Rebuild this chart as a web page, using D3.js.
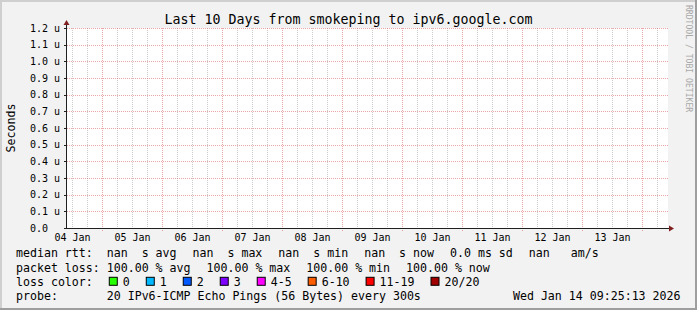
<!DOCTYPE html>
<html><head><meta charset="utf-8">
<script src="https://cdn.jsdelivr.net/npm/d3@7"></script>
<style>
html,body{margin:0;padding:0;background:#f2f2f2;}
svg{display:block;font-family:"DejaVu Sans Mono",monospace;}
text{white-space:pre;}
</style></head><body>
<svg id="c" width="697" height="310"></svg>
<script>
// ---- data ----
const title = "Last 10 Days from smokeping to ipv6.google.com";
const yAxisTitle = "Seconds";
const watermark = "RRDTOOL / TOBI OETIKER";
const timeDomain = ["2026-01-04T10:00:00Z", "2026-01-14T10:00:00Z"];
const yTicks = [0.0, 0.1, 0.2, 0.3, 0.4, 0.5, 0.6, 0.7, 0.8, 0.9, 1.0, 1.1, 1.2];
const yTickLabels = ["0.0  ", "0.1 u", "0.2 u", "0.3 u", "0.4 u", "0.5 u", "0.6 u", "0.7 u", "0.8 u", "0.9 u", "1.0 u", "1.1 u", "1.2 u"];
const dayLabels = ["04 Jan", "05 Jan", "06 Jan", "07 Jan", "08 Jan", "09 Jan", "10 Jan", "11 Jan", "12 Jan", "13 Jan"];
const dayLabelTimes = ["2026-01-04T12:00:00Z", "2026-01-05T12:00:00Z", "2026-01-06T12:00:00Z", "2026-01-07T12:00:00Z", "2026-01-08T12:00:00Z", "2026-01-09T12:00:00Z", "2026-01-10T12:00:00Z", "2026-01-11T12:00:00Z", "2026-01-12T12:00:00Z", "2026-01-13T12:00:00Z"];
const medianStatNames = ["avg", "max", "min", "now"];
const medianStatValues = ["nan", "nan", "nan", "nan"];
const rttSd = "0.0";
const amPerS = "nan";
const lossStatNames = ["avg", "max", "min", "now"];
const lossStatValues = ["100.00", "100.00", "100.00", "100.00"];
const lossColorLabels = ["0", "1", "2", "3", "4-5", "6-10", "11-19", "20/20"];
const lossColors = ["#26ff00", "#00b8ff", "#0059ff", "#7e00ff", "#ff00ff", "#ff5e00", "#ff0000", "#a10000"];
const probeText = "20 IPv6-ICMP Echo Pings (56 Bytes) every 300s";
const timestamp = "Wed Jan 14 09:25:13 2026";

// ---- layout ----
const W = 697, H = 310;
const L = 67, R = 667, T = 28, B = 228;
const svg = d3.select("#c");
const bg = "#f2f2f2";

svg.append("rect").attr("width", W).attr("height", H).attr("fill", bg);
// 3D frame
svg.append("path").attr("d", `M0,0H${W}V2H2V${H}H0Z`).attr("fill", "#cfcfcf");
svg.append("path").attr("d", `M${W},${H}H0V${H-2}H${W-2}V0H${W}Z`).attr("fill", "#9e9e9e");

// canvas
svg.append("rect").attr("x", L).attr("y", T).attr("width", R - L + 1).attr("height", B - T).attr("fill", "#fff");

const x = d3.scaleUtc().domain(timeDomain.map(d => new Date(d))).range([L, R]);
const y = d3.scaleLinear().domain([0, 1.2]).range([B, T]);
const px = v => Math.round(v) + 0.5;

const grid = svg.append("g");
// minor vertical grid (6h)
const minor = d3.utcHour.every(6).range(x.domain()[0], x.domain()[1]).filter(d => d.getUTCHours() !== 0);
grid.selectAll("line.mv").data(minor).join("line")
  .attr("x1", d => px(x(d))).attr("x2", d => px(x(d)))
  .attr("y1", T).attr("y2", B + 2)
  .attr("stroke", "rgba(143,143,143,0.45)").attr("stroke-dasharray", "1,1");
// major vertical grid (days)
const major = d3.utcDay.range(x.domain()[0], x.domain()[1]);
grid.selectAll("line.Mv").data(major).join("line")
  .attr("x1", d => px(x(d))).attr("x2", d => px(x(d)))
  .attr("y1", T).attr("y2", B + 3)
  .attr("stroke", "rgba(222,79,79,0.5)").attr("stroke-dasharray", "1,1");
// horizontal grid
grid.selectAll("line.h").data(yTicks.slice(1)).join("line")
  .attr("x1", L).attr("x2", R + 2)
  .attr("y1", d => px(y(d))).attr("y2", d => px(y(d)))
  .attr("stroke", "rgba(222,79,79,0.5)").attr("stroke-dasharray", "1,1");
// y tick marks
grid.selectAll("line.yt").data(yTicks).join("line")
  .attr("x1", L - 3).attr("x2", L)
  .attr("y1", d => px(y(d))).attr("y2", d => px(y(d)))
  .attr("stroke", "#1f1f1f");

// axes
const axisCol = "#1f1f1f", arrowCol = "#801f1f";
svg.append("line").attr("x1", L - 1).attr("x2", R + 2).attr("y1", px(B)).attr("y2", px(B)).attr("stroke", axisCol);
svg.append("line").attr("x1", L - 0.5).attr("x2", L - 0.5).attr("y1", B + 1).attr("y2", T - 4).attr("stroke", axisCol);
svg.append("path").attr("d", `M${R + 2},${px(B) - 3}L${R + 7},${px(B)}L${R + 2},${px(B) + 3}Z`).attr("fill", arrowCol);
svg.append("path").attr("d", `M${L - 3.5},${T - 3}L${L - 0.5},${T - 8}L${L + 2.5},${T - 3}Z`).attr("fill", arrowCol);

// y tick labels
svg.append("g").selectAll("text").data(yTicks).join("text")
  .attr("x", 60).attr("y", d => y(d)).attr("dy", "0.36em")
  .attr("text-anchor", "end").attr("font-size", 10).attr("fill", "#000")
  .text((d, i) => yTickLabels[i]);

// x labels
svg.append("g").selectAll("text").data(dayLabels).join("text")
  .attr("x", (d, i) => x(new Date(dayLabelTimes[i])) + 0.5).attr("y", 240.5)
  .attr("text-anchor", "middle").attr("font-size", 10).attr("fill", "#000")
  .text(d => d);

// title
svg.append("text").attr("x", W / 2).attr("y", 24).attr("text-anchor", "middle")
  .attr("font-size", 13.3).attr("fill", "#000").text(title);
// y-axis title
svg.append("text").attr("transform", `translate(15,${(T + B) / 2}) rotate(-90)`)
  .attr("text-anchor", "middle").attr("font-size", 11.6).attr("fill", "#000").text(yAxisTitle);
// watermark
svg.append("text").attr("transform", `translate(685.5,5) rotate(90)`)
  .attr("font-size", 8.1).attr("fill", "#a8a8a8").text(watermark);

// legend
const fs = 11.6, gap = 16, lx = 16;
const baselines = [257.2, 271.5, 285.8, 300.1];
function placeItems(items, yb) {
  let cx = lx;
  items.forEach(it => {
    if (it.box) {
      svg.append("rect").attr("x", cx + 0.5).attr("y", yb - 8.5).attr("width", 8).attr("height", 8)
        .attr("fill", it.box).attr("stroke", "#000").attr("stroke-width", 1);
      const t = svg.append("text").attr("x", cx + 14).attr("y", yb).attr("font-size", fs).attr("fill", "#000").text(it.text);
      cx += 14 + t.node().getComputedTextLength() + gap;
    } else {
      const t = svg.append("text").attr("x", cx).attr("y", yb).attr("font-size", fs).attr("fill", "#000").text(it.text);
      cx += t.node().getComputedTextLength() + gap;
    }
  });
}
const line1 = medianStatNames.map((n, i) => ({ text: (i === 0 ? "median rtt:  " : "") + medianStatValues[i] + "  s " + n }));
line1.push({ text: rttSd + " ms sd" });
line1.push({ text: amPerS + "   am/s" });
placeItems(line1, baselines[0]);
const line2 = lossStatNames.map((n, i) => ({ text: (i === 0 ? "packet loss: " : "") + lossStatValues[i] + " % " + n }));
placeItems(line2, baselines[1]);
const line3 = [{ text: "loss color:" }].concat(lossColorLabels.map((l, i) => ({ text: l, box: lossColors[i] })));
placeItems(line3, baselines[2]);
svg.append("text").attr("x", lx).attr("y", baselines[3]).attr("font-size", fs).attr("fill", "#000").text("probe:       " + probeText);
svg.append("text").attr("x", 680.5).attr("y", baselines[3]).attr("text-anchor", "end").attr("font-size", fs).attr("fill", "#000").text(timestamp);
</script>
</body></html>
